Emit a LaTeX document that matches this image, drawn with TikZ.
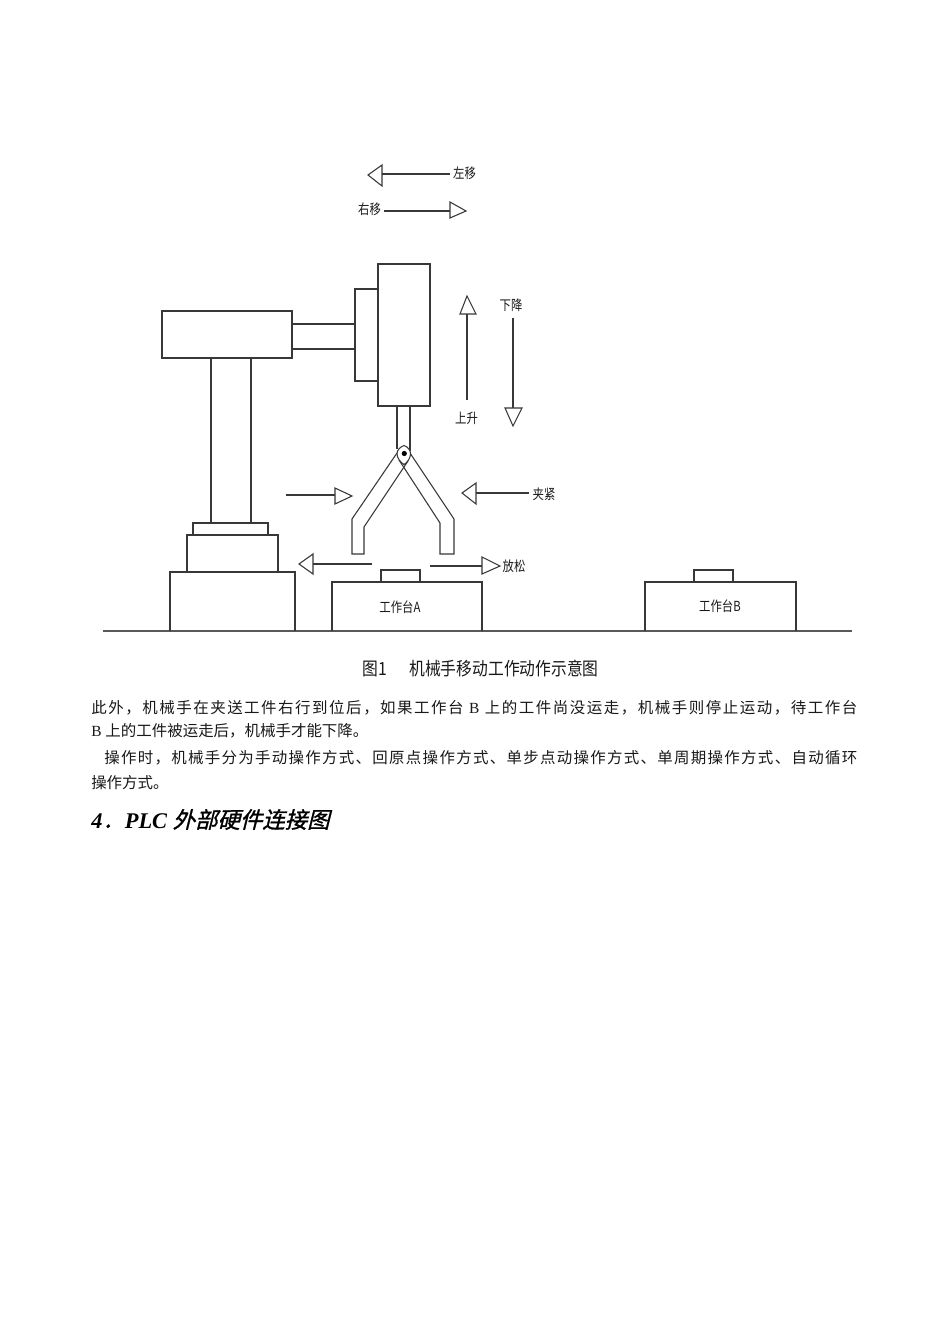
\documentclass[tikz,border=0pt]{standalone}
\usepackage{fontspec}
\setmainfont{Noto Sans CJK SC}
\newfontfamily\lat{Liberation Serif}
\newfontfamily\headcjk[FakeSlant=0.25,FakeBold=1.2]{Noto Sans CJK SC}
\makeatletter
\newcommand{\spreadline}[2]{\hbox to #1{\@tfor\@tempa:=#2\do{{\@tempa}\hfil}\unskip}}
\makeatother
\tikzset{
  ln/.style={draw=black!78,line width=0.8pt,line join=miter},
  ground/.style={draw=black!65,line width=1.2pt},
  lbl/.style={inner sep=0pt,font=\fontsize{10.4pt}{11pt}\selectfont,text=black!90,xscale=.82,transform shape},
  captionlbl/.style={inner sep=0pt,font=\fontsize{13.6pt}{14pt}\selectfont,text=black!90,xscale=.87,transform shape},
  body/.style={inner sep=0pt,anchor=base west,font=\fontsize{11.6pt}{13pt}\selectfont,text=black!90},
  headline/.style={inner sep=0pt,anchor=base west,text=black}
}
\begin{document}
\begin{tikzpicture}[x=0.75pt,y=-0.75pt]
\useasboundingbox[fill=white] (0,0) rectangle (950,1344);

% ground
\draw[ground] (103,631) -- (852,631);

% pedestal and column
\draw[ln] (170,631) -- (170,572) -- (295,572) -- (295,631);
\draw[ln] (187,572) -- (187,535) -- (278,535) -- (278,572);
\draw[ln] (193,535) -- (193,523) -- (268,523) -- (268,535);
\draw[ln] (211,523) -- (211,358);
\draw[ln] (251,523) -- (251,358);
\draw[ln] (162,311) rectangle (292,358);
\draw[ln] (292,324) -- (355,324);
\draw[ln] (292,349) -- (355,349);
\draw[ln] (355,289) rectangle (378,381);
\draw[ln] (378,264) rectangle (430,406);
\draw[ln] (397,406) -- (397,449);
\draw[ln] (410,406) -- (410,451);

% gripper
\draw[ln] (397,453) -- (352,519) -- (352,554) -- (364,554) -- (364,527) -- (408,461);
\draw[ln] (410,453) -- (454,519) -- (454,554) -- (440,554) -- (440,523) -- (399,460);
\draw[ln,fill=white] (404,445.5) .. controls (408,447) and (410.5,450) .. (410.5,454) .. controls (410.5,458) and (407,463) .. (404,464.5) .. controls (401,463) and (397,458) .. (397,454) .. controls (397,450) and (400,447) .. (404,445.5) -- cycle;
\fill[black] (404.3,453.5) circle (2.6);

% tables
\draw[ln] (332,631) -- (332,582) -- (482,582) -- (482,631);
\draw[ln] (381,582) -- (381,570) -- (420,570) -- (420,582);
\draw[ln] (645,631) -- (645,582) -- (796,582) -- (796,631);
\draw[ln] (694,582) -- (694,570) -- (733,570) -- (733,582);

% arrows
\draw[ln] (450,174) -- (382,174);
\draw[ln] (382,165) -- (368,175) -- (382,186) -- cycle;
\draw[ln] (384,211) -- (450,211);
\draw[ln] (450,202) -- (466,211) -- (450,218) -- cycle;
\draw[ln] (467,400) -- (467,314);
\draw[ln] (460,314) -- (467,296) -- (476,314) -- cycle;
\draw[ln] (513,318) -- (513,408);
\draw[ln] (505,408) -- (513,426) -- (522,408) -- cycle;
\draw[ln] (286,495) -- (335,495);
\draw[ln] (335,488) -- (352,496) -- (335,504) -- cycle;
\draw[ln] (529,493) -- (476,493);
\draw[ln] (476,483) -- (462,493) -- (476,504) -- cycle;
\draw[ln] (372,564) -- (313,564);
\draw[ln] (313,554) -- (299,564) -- (313,574) -- cycle;
\draw[ln] (430,566) -- (482,566);
\draw[ln] (482,557) -- (500,566) -- (482,574) -- cycle;

% figure labels
\node[lbl] (left) at (464.5,173) {左移};
\node[lbl] (right) at (369.5,209) {右移};
\node[lbl] (down) at (511,305) {下降};
\node[lbl] (up) at (466.5,418) {上升};
\node[lbl] (clamp) at (544,494) {夹紧};
\node[lbl] (release) at (514,566) {放松};
\node[lbl] (tableA) at (400,607) {工作台A};
\node[lbl] (tableB) at (720,606.5) {工作台B};
\node[captionlbl] (capn) at (375,669) {图1};
\node[captionlbl] (capt) at (504,669) {机械手移动工作动作示意图};

% body text
\node[body] (l1) at (91,713.5) {\spreadline{574.5pt}{此外，机械手在夹送工件右行到位后，如果工作台{\lat\ B\ }上的工件尚没运走，机械手则停止运动，待工作台}};
\node[body] (l2) at (91,736.5) {{\lat B\ }上的工件被运走后，机械手才能下降。};
\node[body] (l3) at (104,763.5) {\spreadline{564.75pt}{操作时，机械手分为手动操作方式、回原点操作方式、单步点动操作方式、单周期操作方式、自动循环}};
\node[body] (l4) at (91,788.5) {操作方式。};
\node[headline] (head) at (91,828) {\fontsize{16.8pt}{18pt}\selectfont{\lat\bfseries\itshape 4}{\headcjk ．}{\lat\bfseries\itshape PLC\ }{\headcjk 外部硬件连接图}};
\end{tikzpicture}
\end{document}
